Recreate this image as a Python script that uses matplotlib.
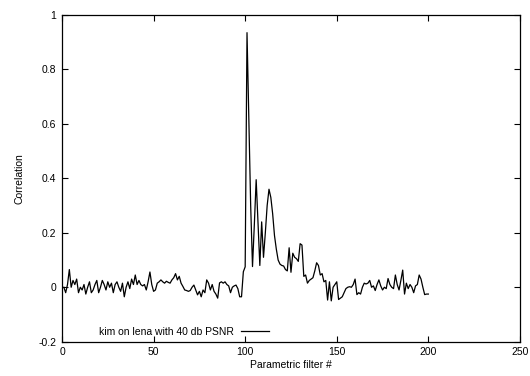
import matplotlib
matplotlib.use("Agg")
import matplotlib.pyplot as plt

# correlation per parametric filter index (1..200)
corr = [
    0.00, -0.02, 0.01, 0.065, 0.0, 0.025, 0.01, 0.03, -0.02, 0.0,
    -0.01, 0.01, -0.025, 0.0, 0.02, -0.02, -0.01, 0.01, 0.025, -0.02,
    0.0, 0.025, 0.01, -0.01, 0.02, 0.0, 0.015, -0.02, 0.01, 0.02,
    0.0, -0.015, 0.015, -0.035, 0.0, 0.02, -0.005, 0.03, 0.01, 0.045,
    0.01, 0.025, 0.01, 0.005, 0.01, -0.01, 0.02, 0.056, 0.01, -0.015,
    -0.01, 0.015, 0.02, 0.027, 0.02, 0.015, 0.022, 0.018, 0.015, 0.027,
    0.035, 0.05, 0.027, 0.04, 0.015, 0.003, -0.01, -0.012, -0.015, -0.012,
    0.0, 0.008, -0.01, -0.028, -0.015, -0.035, -0.01, -0.02, 0.027, 0.015,
    -0.01, 0.01, -0.015, -0.025, -0.04, 0.016, 0.02, 0.015, 0.02, 0.01,
    0.005, -0.02, 0.0, 0.005, 0.008, -0.005, -0.035, -0.035, 0.057, 0.075,
    0.935, 0.62, 0.3, 0.076, 0.23, 0.395, 0.24, 0.08, 0.24, 0.11,
    0.2, 0.3, 0.36, 0.33, 0.27, 0.19, 0.14, 0.1, 0.085, 0.08,
    0.078, 0.065, 0.06, 0.145, 0.055, 0.125, 0.11, 0.105, 0.095, 0.16,
    0.155, 0.04, 0.045, 0.015, 0.025, 0.03, 0.035, 0.06, 0.09, 0.08,
    0.045, 0.05, 0.02, 0.025, -0.047, 0.02, -0.05, 0.0, 0.01, 0.02,
    -0.045, -0.04, -0.035, -0.02, -0.005, 0.0, 0.002, 0.0, 0.01, 0.03,
    -0.027, -0.02, -0.025, 0.0, 0.015, 0.012, 0.015, 0.025, 0.0, 0.005,
    -0.012, 0.01, 0.027, 0.005, -0.01, 0.0, -0.005, 0.032, 0.01, 0.0,
    -0.005, 0.045, 0.01, -0.01, 0.025, 0.063, -0.025, 0.015, -0.005, 0.01,
    0.0, -0.02, 0.005, 0.01, 0.045, 0.03, 0.0, -0.027, -0.025, -0.025,
]
filters = list(range(1, len(corr) + 1))

xticks = [0, 50, 100, 150, 200, 250]
yticks = [-0.2, 0, 0.2, 0.4, 0.6, 0.8, 1]
ytick_labels = ["-0.2", "0", "0.2", "0.4", "0.6", "0.8", "1"]

plt.rcParams['font.family'] = ['Liberation Sans', 'DejaVu Sans']
plt.rcParams['font.size'] = 7.5

fig = plt.figure(figsize=(5.3, 3.76), dpi=100)
ax = fig.add_axes([0.117, 0.0912, 0.864, 0.869])

ax.plot(filters, corr, color='black', lw=0.9, label='kim on lena with 40 db PSNR')

ax.set_xlim(0, 250)
ax.set_ylim(-0.2, 1)
ax.set_xticks(xticks)
ax.set_yticks(yticks)
ax.set_yticklabels(ytick_labels)
ax.tick_params(direction='in', top=True, right=True, length=4, width=0.8, pad=4)
for s in ax.spines.values():
    s.set_linewidth(0.9)

ax.set_xlabel('Parametric filter #', labelpad=2)
ax.set_ylabel('Correlation', labelpad=10)

ax.legend(loc='lower left', bbox_to_anchor=(0.07, 0.0), frameon=False,
          markerfirst=False, handlelength=2.6, handletextpad=0.7,
          borderaxespad=0.1)

fig.savefig('out.png', dpi=100)
